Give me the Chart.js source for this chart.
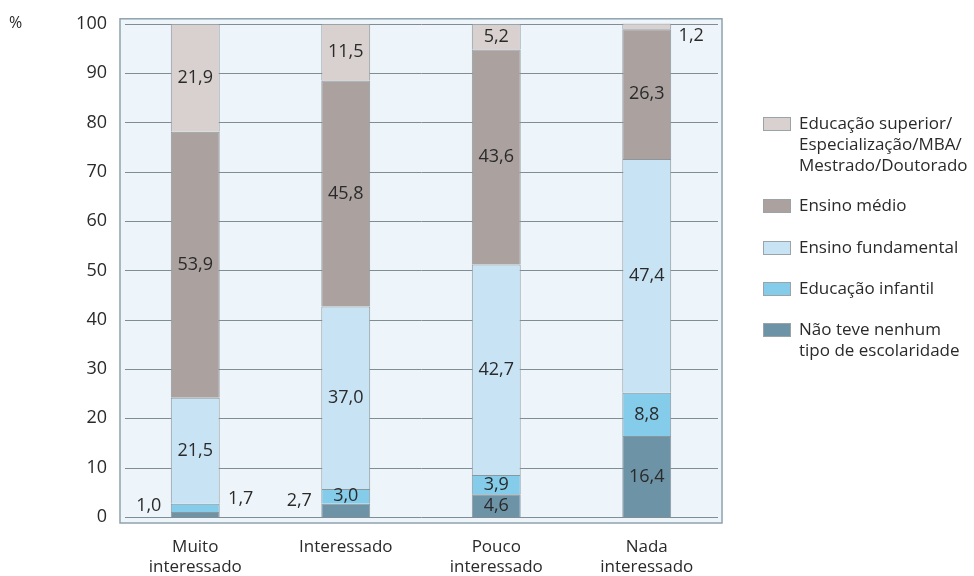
<!DOCTYPE html>
<html>
<head>
<meta charset="utf-8">
<script src="https://cdn.jsdelivr.net/npm/chart.js@4.4.0/dist/chart.umd.min.js"></script>
<style>
  html, body { margin: 0; padding: 0; background: #ffffff; }
  #wrap { width: 974px; height: 576px; }
</style>
</head>
<body>
<div id="wrap"><canvas id="chart" width="974" height="576"></canvas></div>
<script>
// Interesse x escolaridade (%)
const categories = [["Muito", "interessado"], "Interessado", ["Pouco", "interessado"], ["Nada", "interessado"]];
const semEscolaridade = [1.0, 2.7, 4.6, 16.4];
const educInfantil = [1.7, 3.0, 3.9, 8.8];
const ensFundamental = [21.5, 37.0, 42.7, 47.4];
const ensMedio = [53.9, 45.8, 43.6, 26.3];
const educSuperior = [21.9, 11.5, 5.2, 1.2];
const yTicks = [0, 10, 20, 30, 40, 50, 60, 70, 80, 90, 100];

const FONT = "'Open Sans', sans-serif";
const TEXT = "#2a2a2a";

// small segments whose label sits beside the bar (category-dataset)
const outsideLabels = { "0-0": "left", "0-1": "right", "1-0": "left" };

const datasets = [
  { label: ["Não teve nenhum", "tipo de escolaridade"], data: semEscolaridade, backgroundColor: "#6d93a7" },
  { label: ["Educação infantil"], data: educInfantil, backgroundColor: "#84cce9" },
  { label: ["Ensino fundamental"], data: ensFundamental, backgroundColor: "#c8e4f4" },
  { label: ["Ensino médio"], data: ensMedio, backgroundColor: "#aba2a0" },
  { label: ["Educação superior/", "Especialização/MBA/", "Mestrado/Doutorado"], data: educSuperior, backgroundColor: "#d9d1cf" }
].map(d => ({ ...d, borderColor: "#8c979c", borderWidth: 1, barPercentage: 0.325, categoryPercentage: 1 }));

// frame, pale background and horizontal grid behind the bars
const framePlugin = {
  id: "frame",
  beforeDatasetsDraw(chart) {
    const { ctx, scales: { x, y } } = chart;
    ctx.save();
    ctx.fillStyle = "#eef5fa";
    ctx.fillRect(x.left, y.top - 5, x.right - x.left, y.bottom - y.top + 11);
    ctx.strokeStyle = "#8fa3ad";
    ctx.lineWidth = 1.5;
    ctx.strokeRect(x.left, y.top - 5, x.right - x.left, y.bottom - y.top + 11);
    ctx.strokeStyle = "#808d93";
    ctx.lineWidth = 1;
    yTicks.forEach(v => {
      const py = Math.round(y.getPixelForValue(v)) + 0.5;
      ctx.beginPath();
      ctx.moveTo(x.left + 5, py);
      ctx.lineTo(x.right - 4, py);
      ctx.stroke();
    });
    ctx.fillStyle = TEXT;
    ctx.font = "16px " + FONT;
    ctx.textAlign = "left";
    ctx.textBaseline = "middle";
    ctx.fillText("%", 9, y.getPixelForValue(100));
    ctx.restore();
  }
};

// value labels, comma decimals
const valuePlugin = {
  id: "values",
  afterDatasetsDraw(chart) {
    const { ctx } = chart;
    ctx.save();
    ctx.fillStyle = TEXT;
    ctx.font = "18px " + FONT;
    ctx.textBaseline = "middle";
    ctx.textAlign = "center";
    chart.data.datasets.forEach((ds, di) => {
      const meta = chart.getDatasetMeta(di);
      meta.data.forEach((bar, i) => {
        const v = ds.data[i];
        const txt = v.toFixed(1).replace(".", ",");
        const cy = (bar.y + bar.base) / 2;
        const half = bar.width / 2;
        const place = outsideLabels[i + "-" + di];
        if (place === "left") {
          ctx.fillText(txt, bar.x - half - 22, cy - 9);
        } else if (place === "right") {
          ctx.fillText(txt, bar.x + half + 21, cy - 9);
        } else if (v < 2) {
          ctx.fillText(txt, bar.x + half + 20, cy + 10);
        } else {
          ctx.fillText(txt, bar.x, cy);
        }
      });
    });
    ctx.restore();
  }
};

// legend on the right, top layer first
const legendPlugin = {
  id: "sideLegend",
  afterDraw(chart) {
    const { ctx } = chart;
    const rows = [124, 206, 248, 289, 330];
    ctx.save();
    ctx.font = "17px " + FONT;
    ctx.textBaseline = "middle";
    ctx.textAlign = "left";
    chart.data.datasets.slice().reverse().forEach((ds, k) => {
      const top = rows[k];
      ctx.fillStyle = ds.backgroundColor;
      ctx.fillRect(763, top - 7, 28, 14);
      ctx.strokeStyle = "#9aa3a6";
      ctx.lineWidth = 1;
      ctx.strokeRect(763.5, top - 6.5, 27, 13);
      ctx.fillStyle = TEXT;
      ds.label.forEach((line, j) => ctx.fillText(line, 799, top + j * 21));
    });
    ctx.restore();
  }
};

new Chart(document.getElementById("chart"), {
  type: "bar",
  data: { labels: categories, datasets },
  options: {
    responsive: false,
    animation: false,
    layout: { padding: { left: 0, right: 252, top: 20, bottom: 0 } },
    plugins: {
      legend: { display: false },
      tooltip: { enabled: false }
    },
    scales: {
      x: {
        stacked: true,
        grid: { display: false, drawTicks: false },
        border: { display: false },
        ticks: { color: TEXT, font: { family: FONT, size: 17 }, padding: 20, maxRotation: 0 },
        afterFit(s) { s.height = 59; }
      },
      y: {
        stacked: true,
        min: 0,
        max: 100,
        grid: { display: false, drawTicks: false },
        border: { display: false },
        ticks: { stepSize: 10, color: TEXT, font: { family: FONT, size: 18 }, padding: 13 },
        afterFit(s) { s.width = 120; }
      }
    }
  },
  plugins: [framePlugin, valuePlugin, legendPlugin]
});
</script>
</body>
</html>
